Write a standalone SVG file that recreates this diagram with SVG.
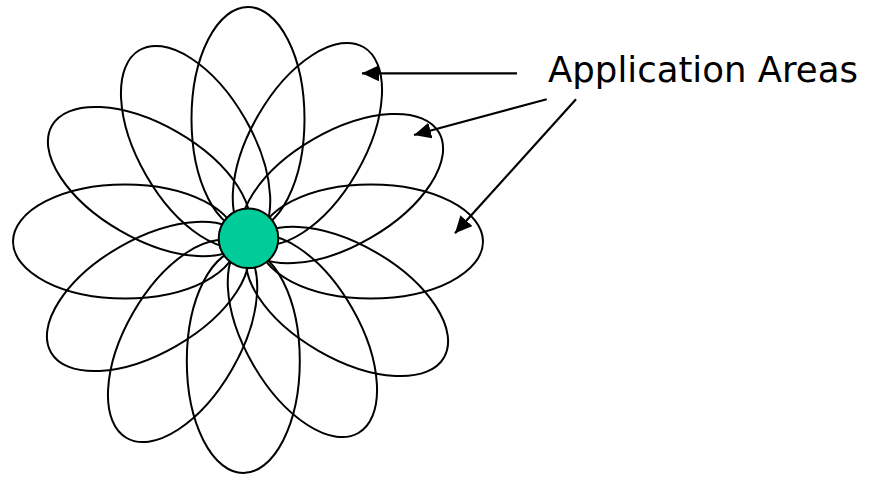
<svg xmlns="http://www.w3.org/2000/svg" width="880" height="477" viewBox="0 0 880 477">
<style>
.petal{fill:none;stroke:#000;stroke-width:2}
.conn{fill:none;stroke:#000;stroke-width:2.2}
.label{font-family:"DejaVu Sans","Liberation Sans",sans-serif;font-size:35px;fill:#000}
</style>
<defs>
<marker id="ah" markerUnits="userSpaceOnUse" markerWidth="20" markerHeight="18" refX="17" refY="8" orient="auto">
<path d="M0,0 L17,8 L0,16 Z" fill="#000"/>
</marker>
</defs>
<rect width="880" height="477" fill="#fff"/>
<g id="petals">
<ellipse id="petal-0" class="petal" cx="248" cy="119" rx="56.5" ry="112"/>
<ellipse id="petal-30" class="petal" cx="307.4" cy="144" rx="57" ry="112" transform="rotate(30 307.4 144)"/>
<ellipse id="petal-60" class="petal" cx="342" cy="188.6" rx="57" ry="112" transform="rotate(60 342 188.6)"/>
<ellipse id="petal-90" class="petal" cx="371" cy="241.5" rx="57" ry="112" transform="rotate(90 371 241.5)"/>
<ellipse id="petal-120" class="petal" cx="347" cy="301.4" rx="57" ry="112" transform="rotate(120 347 301.4)"/>
<ellipse id="petal-150" class="petal" cx="302.4" cy="336" rx="57" ry="112" transform="rotate(150 302.4 336)"/>
<ellipse id="petal-180" class="petal" cx="243.3" cy="361" rx="56.5" ry="112"/>
<ellipse id="petal-210" class="petal" cx="182.6" cy="341" rx="57" ry="112" transform="rotate(30 182.6 341)"/>
<ellipse id="petal-240" class="petal" cx="148" cy="296.4" rx="57" ry="112" transform="rotate(60 148 296.4)"/>
<ellipse id="petal-270" class="petal" cx="125" cy="241.5" rx="57" ry="112" transform="rotate(90 125 241.5)"/>
<ellipse id="petal-300" class="petal" cx="149" cy="181.6" rx="57" ry="112" transform="rotate(120 149 181.6)"/>
<ellipse id="petal-330" class="petal" cx="195.6" cy="147" rx="57" ry="112" transform="rotate(150 195.6 147)"/>
</g>
<g id="core">
<circle cx="248.5" cy="238.3" r="29.8" fill="#00CC99" stroke="#000" stroke-width="2"/>
</g>
<g id="connectors">
<line class="conn" x1="517" y1="73.3" x2="362" y2="73.3" marker-end="url(#ah)"/>
<line class="conn" x1="546.7" y1="99.3" x2="414" y2="135" marker-end="url(#ah)"/>
<line class="conn" x1="576" y1="99.3" x2="455" y2="233.3" marker-end="url(#ah)"/>
</g>
<g id="label">
<text class="label" x="548" y="82" textLength="310" lengthAdjust="spacingAndGlyphs">Application Areas</text>
</g>
</svg>
